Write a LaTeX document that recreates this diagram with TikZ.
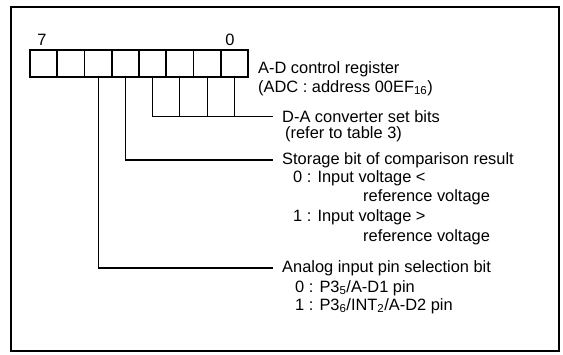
\documentclass[tikz,border=0pt]{standalone}
\usepackage{fontspec}
\setmainfont{Liberation Sans}
\newcommand{\lowidx}[1]{\textsubscript{#1}}

\begin{document}
\begin{tikzpicture}[x=1pt,y=-1pt,
    cell/.style={draw,line width=1.9pt,minimum width=27.25pt,minimum height=27pt,inner sep=0pt},
    lead/.style={line width=1.1pt},
    txt/.style={anchor=west,inner sep=0pt,font=\fontsize{16.4}{17}\selectfont}]
  \useasboundingbox (0,0) rectangle (563,355);
  % outer frame
  \draw[line width=2.6pt] (11,7) rectangle (559,351);
  % the eight bits of the register, bit 7 on the left
  \foreach \b in {0,...,7}
    \node[cell] (bit\b) at ({43.6+(7-\b)*27.25},63.5) {};
  \node[txt,anchor=center] (msb) at (42,40) {7};
  \node[txt,anchor=center] (lsb) at (230,40) {0};
  % register name
  \node[txt] (reg) at (258,69) {A-D control register};
  \node[txt] (adc) at (258,88) {(ADC : address 00EF\lowidx{16})};
  % bits 0 to 3
  \node[txt] (dac) at (282,116.5) {D-A converter set bits};
  \node[txt] (tbl) at (285,134.5) {(refer to table 3)};
  \draw[lead] (bit3.south) |- ([xshift=-9pt]dac.west);
  \foreach \b in {0,1,2}
    \draw[lead] (bit\b.south) -- (bit\b.south |- dac.west);
  % bit 4
  \node[txt] (stor) at (282,160) {Storage bit of comparison result};
  \node[txt] (lt) at (293,178) {0 : Input voltage <};
  \node[txt] (ltref) at (363,197) {reference voltage};
  \node[txt] (gt) at (293,217) {1 : Input voltage >};
  \node[txt] (gtref) at (363,237) {reference voltage};
  \draw[lead] (bit4.south) |- ([xshift=-9pt]stor.west);
  % bit 5
  \node[txt] (anlg) at (282,268) {Analog input pin selection bit};
  \node[txt] (pinA) at (295,288) {0 : P3\lowidx{5}/A-D1 pin};
  \node[txt] (pinB) at (295,306) {1 : P3\lowidx{6}/INT\lowidx{2}/A-D2 pin};
  \draw[lead] (bit5.south) |- ([xshift=-9pt]anlg.west);
\end{tikzpicture}
\end{document}
